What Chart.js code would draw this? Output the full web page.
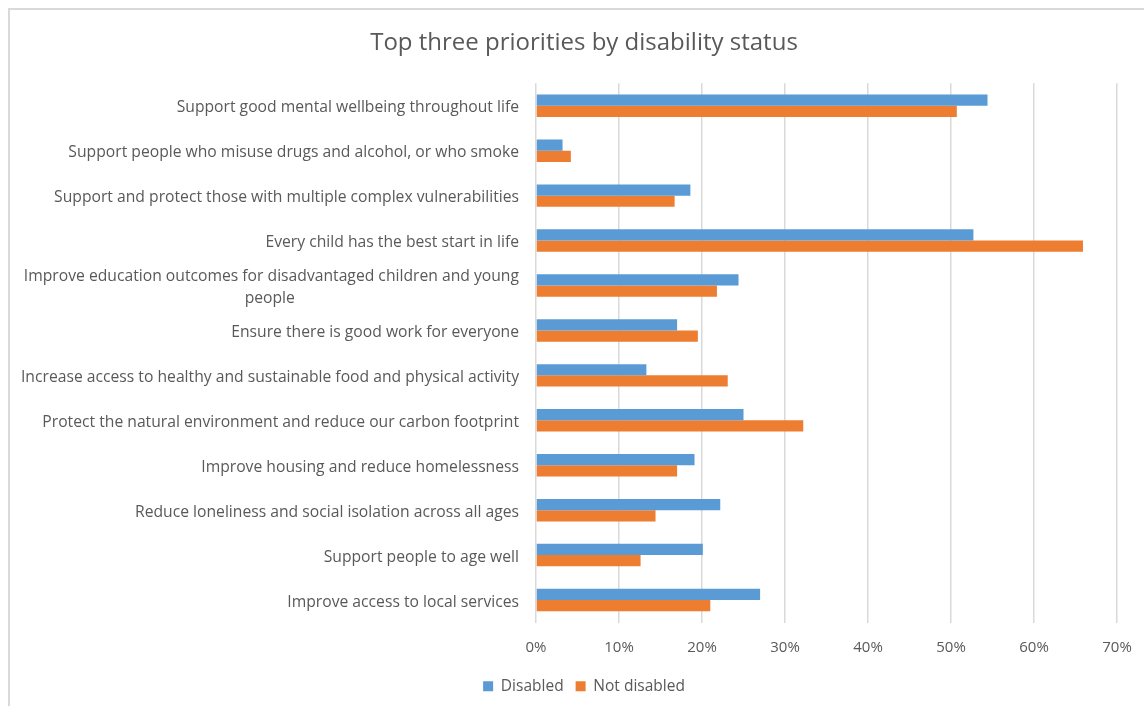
<!DOCTYPE html>
<html>
<head>
<meta charset="utf-8">
<script src="https://cdn.jsdelivr.net/npm/chart.js@4"></script>
<style>
  html, body { margin: 0; padding: 0; background: #fff; overflow: hidden; }
  #marco { position: absolute; left: 8px; top: 8px; width: 1300px; height: 900px; border: 2px solid #d9d9d9; box-sizing: border-box; }
  #caja { position: absolute; left: 0; top: 0; width: 1165px; height: 706px; }
</style>
</head>
<body>
<div id="marco"></div>
<div id="caja"><canvas id="grafico" width="1165" height="706"></canvas></div>
<script>
// Datos (porcentaje)
const prioridades = [
  'Support good mental wellbeing throughout life',
  'Support people who misuse drugs and alcohol, or who smoke',
  'Support and protect those with multiple complex vulnerabilities',
  'Every child has the best start in life',
  ['Improve education outcomes for disadvantaged children and young', 'people' + '\u00a0'.repeat(55)],
  'Ensure there is good work for everyone',
  'Increase access to healthy and sustainable food and physical activity',
  'Protect the natural environment and reduce our carbon footprint',
  'Improve housing and reduce homelessness',
  'Reduce loneliness and social isolation across all ages',
  'Support people to age well',
  'Improve access to local services'
];
const discapacitados = [54.4, 3.2, 18.6, 52.7, 24.4, 17.0, 13.3, 25.0, 19.1, 22.2, 20.1, 27.0];
const noDiscapacitados = [50.7, 4.2, 16.7, 65.9, 21.8, 19.5, 23.1, 32.2, 17.0, 14.4, 12.6, 21.0];
const ticksX = [0, 10, 20, 30, 40, 50, 60, 70];

const fuente = 'Open Sans';
const gris = '#595959';

// El titulo y la leyenda van centrados en todo el marco, no solo en la zona de barras
const centrarCabecera = {
  id: 'centrarCabecera',
  afterLayout(chart) {
    if (chart.titleBlock) chart.titleBlock.left = 51;
    if (chart.legend) chart.legend.left = 51;
  }
};

const ctx = document.getElementById('grafico').getContext('2d');
const grafico = new Chart(ctx, {
  type: 'bar',
  data: {
    labels: prioridades,
    datasets: [
      { label: 'Disabled', data: discapacitados, backgroundColor: '#5B9BD5' },
      { label: 'Not disabled', data: noDiscapacitados, backgroundColor: '#ED7D31' }
    ]
  },
  options: {
    indexAxis: 'y',
    responsive: false,
    animation: false,
    layout: { padding: { left: 0, right: 48, top: 0, bottom: 2 } },
    datasets: { bar: { categoryPercentage: 0.5, barPercentage: 1.0 } },
    plugins: {
      title: {
        display: true,
        text: 'Top three priorities by disability status',
        color: gris,
        font: { family: fuente, size: 24, weight: 'normal' },
        padding: { top: 28.5, bottom: 26 }
      },
      legend: {
        position: 'bottom',
        labels: {
          color: gris,
          font: { family: fuente, size: 15.5 },
          boxWidth: 10,
          boxHeight: 10,
          padding: 12
        }
      },
      tooltip: { enabled: false }
    },
    scales: {
      x: {
        min: 0,
        max: 70,
        afterBuildTicks: function(scale) {
          scale.ticks = ticksX.map(v => ({ value: v }));
        },
        afterFit: function(scale) { scale.height -= 6; },
        ticks: {
          color: gris,
          font: { family: fuente, size: 15 },
          padding: 16,
          maxRotation: 0,
          callback: v => v + '%'
        },
        grid: { color: '#d9d9d9', lineWidth: 1.5, drawTicks: false },
        border: { display: false }
      },
      y: {
        afterFit: function(scale) { scale.width = 536; },
        ticks: {
          color: gris,
          font: { family: fuente, size: 15.7, lineHeight: 1.4 },
          padding: 17,
          autoSkip: false,
          labelOffset: 2
        },
        grid: { display: false, drawTicks: false },
        border: { display: false }
      }
    }
  },
  plugins: [centrarCabecera]
});
</script>
</body>
</html>
